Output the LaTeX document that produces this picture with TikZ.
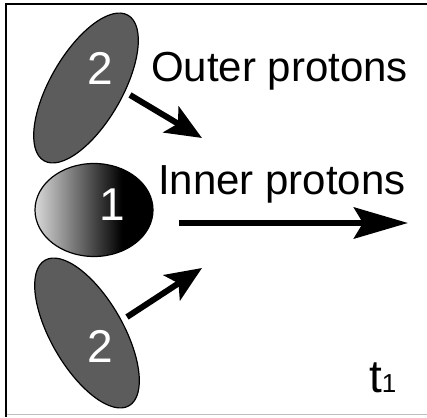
\documentclass[tikz,border=0pt]{standalone}
\usepackage{fontspec}
\setmainfont{Liberation Sans}
\usetikzlibrary{shapes.geometric,arrows.meta}
\pgfdeclarehorizontalshading{ballshade}{100bp}{color(0bp)=(black!15); color(25bp)=(black!15); color(62bp)=(black); color(100bp)=(black)}
\definecolor{pgrey}{RGB}{92,92,92}
\begin{document}
\begin{tikzpicture}[x=1pt,y=1pt,
  blob/.style={ellipse, draw=black, line width=1.2pt, fill=pgrey, minimum width=168pt, minimum height=72pt, inner sep=0pt},
  num/.style={text=white, font=\fontsize{46}{46}\selectfont, inner sep=0pt},
  lbl/.style={font=\fontsize{42}{42}\selectfont, inner sep=0pt, anchor=base west},
  smallarrow/.style={line width=6pt, -{Stealth[length=36pt,width=30pt,inset=8pt]}},
  bigarrow/.style={line width=6.5pt, -{Stealth[length=54pt,width=31pt,inset=9pt]}}]
\useasboundingbox (0,0) rectangle (427,417);
\fill[white] (0,0) rectangle (427,417);
% frame
\draw[black, line width=2pt] (5,412.5) -- (427,412.5);
\draw[black, line width=2pt] (6,413.5) -- (6,0);
\draw[black!25, line width=1pt] (7,2.5) -- (427,2.5);
% particles
\node[blob, rotate=60] (outerA) at (86,329) {};
\node[blob, rotate=-60] (outerB) at (87,84) {};
\node[ellipse, draw=black, line width=1.2pt, shading=ballshade, minimum width=118pt, minimum height=93pt, inner sep=0pt] (inner) at (94,207) {};
\node[num] (numA) at (100,349) {2};
\node[num] (numB) at (100,71) {2};
\node[num] (numC) at (112,212) {1};
% labels
\node[lbl] (outerlbl) at (151,335) {Outer protons};
\node[lbl] (innerlbl) at (158,222) {Inner protons};
\node[inner sep=0pt, anchor=base west] (time) at (369,25) {{\fontsize{46}{46}\selectfont t}{\fontsize{26}{26}\selectfont 1}};
% arrows
\coordinate (aS) at (130,322);
\coordinate (aT) at (202,279);
\coordinate (bS) at (127,100);
\coordinate (bT) at (202,149);
\coordinate (cS) at (179,194);
\coordinate (cT) at (408,194);
\draw[smallarrow] (aS) -- (aT);
\draw[smallarrow] (bS) -- (bT);
\draw[bigarrow] (cS) -- (cT);
\end{tikzpicture}
\end{document}
